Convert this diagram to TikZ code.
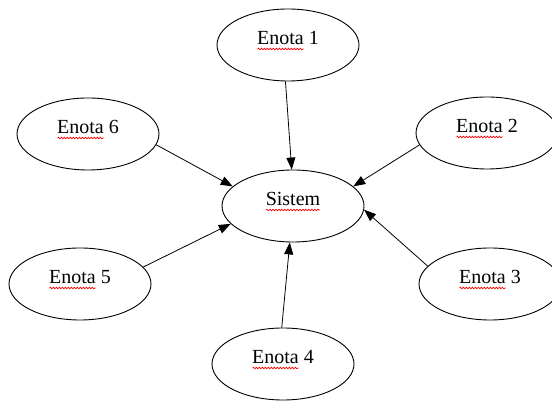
\documentclass[tikz,border=0pt]{standalone}
\usepackage{xcolor}
\usepackage{fontspec}
\setmainfont{Liberation Serif}
\usepackage{tikz}
\usetikzlibrary{shapes.geometric, arrows.meta, decorations.pathmorphing}

\begin{document}
\begin{tikzpicture}[
    x=1pt, y=1pt,
    unit/.style={ellipse, draw, line width=0.9pt, minimum width=142pt, minimum height=72pt,
        inner sep=0pt, text height=13pt, text depth=13pt, font=\fontsize{20}{24}\selectfont},
    link/.style={-{Triangle[length=12pt, width=9pt]}, line width=0.8pt},
    squig/.style={red, line width=0.7pt, decorate, decoration={snake, amplitude=0.8pt, segment length=3pt}}
]
\useasboundingbox (0,0) rectangle (552,401);

% System in the middle
\node[unit] (sis) at (293, 195) {Sistem};

% Units around it
\node[unit] (e1) at (288, 356) {Enota 1};
\node[unit] (e2) at (487, 268) {Enota 2};
\node[unit] (e3) at (490, 117) {Enota 3};
\node[unit] (e4) at (283, 37) {Enota 4};
\node[unit] (e5) at (80, 117) {Enota 5};
\node[unit] (e6) at (88, 267) {Enota 6};

% Arrows into the system
\draw[link] (e1.266) -- (sis.92);
\draw[link] (e2.190) -- (sis.18);
\draw[link] (e3.164) -- (sis.-3);
\draw[link] (e4.92) -- (sis.265);
\draw[link] (e5.15) -- (sis.196);
\draw[link] (e6.-9) -- (sis.162);

% Spell-check waves under the words
\draw[squig] ([xshift=-27pt, yshift=-4pt]sis.center) -- ++(54, 0);
\foreach \n in {e1, e2, e3, e4, e5, e6}
    \draw[squig] ([xshift=-30.5pt, yshift=-4pt]\n.center) -- ++(46, 0);

\end{tikzpicture}
\end{document}
